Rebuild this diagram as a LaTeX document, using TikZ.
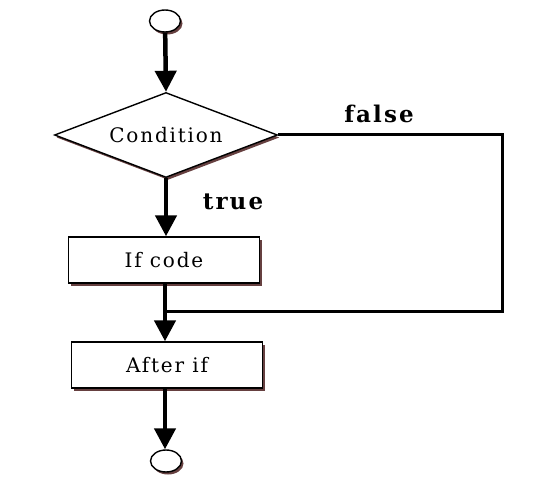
\documentclass[tikz,border=0pt]{standalone}
\usepackage{fontspec}
\newfontfamily\flowfont[LetterSpace=9]{DejaVu Serif}
\usetikzlibrary{arrows.meta,shapes.geometric,shadows}

\tikzset{
  flowshadow/.style={drop shadow={shadow xshift=2pt, shadow yshift=-2.5pt, fill=black!80!red, opacity=0.75}},
  flowbox/.style={draw, line width=1.4pt, fill=white, flowshadow,
    minimum width=191pt, minimum height=46pt, font=\flowfont\fontsize{20}{22}\selectfont},
  decision/.style={diamond, draw, line width=1.4pt, fill=white, flowshadow, inner sep=0pt,
    shape aspect=2.6, minimum width=223pt, minimum height=85pt, font=\flowfont\fontsize{20}{22}\selectfont},
  terminal/.style={ellipse, draw, line width=1.4pt, fill=white, flowshadow,
    minimum width=31pt, minimum height=22pt, inner sep=0pt},
  flowlabel/.style={font=\flowfont\bfseries\fontsize{23}{25}\selectfont},
  mainarrow/.style={line width=4.5pt, -{Triangle[length=21pt, width=21pt]}},
  backline/.style={line width=3pt}
}

\begin{document}
\begin{tikzpicture}[x=1pt, y=-1pt]
  \useasboundingbox (0,0) rectangle (556,486);

  % nodes
  \node[terminal] (start) at (165,21) {};
  \node[decision] (cond) at (166,135) {Condition};
  \node[flowbox] (ifcode) at (164,260) {If code};
  \node[flowbox] (after) at (167,365) {After if};
  \node[terminal] (stop) at (166,461) {};

  % labels
  \node[flowlabel] (truelbl) at (233,202) {true};
  \node[flowlabel] (falselbl) at (379,114) {false};

  % false branch
  \coordinate (corner) at (502,311);
  \coordinate (join) at (165,311);
  \draw[backline] (cond.east) -| (corner) -- (join);

  % main flow
  \draw[mainarrow] (start) -- (cond.north);
  \draw[mainarrow] (cond.south) -- (ifcode.north -| cond.south);
  \draw[mainarrow] (ifcode.south -| join) -- (after.north -| join);
  \draw[mainarrow] (after.south -| join) -- (stop.north -| join);
\end{tikzpicture}
\end{document}
